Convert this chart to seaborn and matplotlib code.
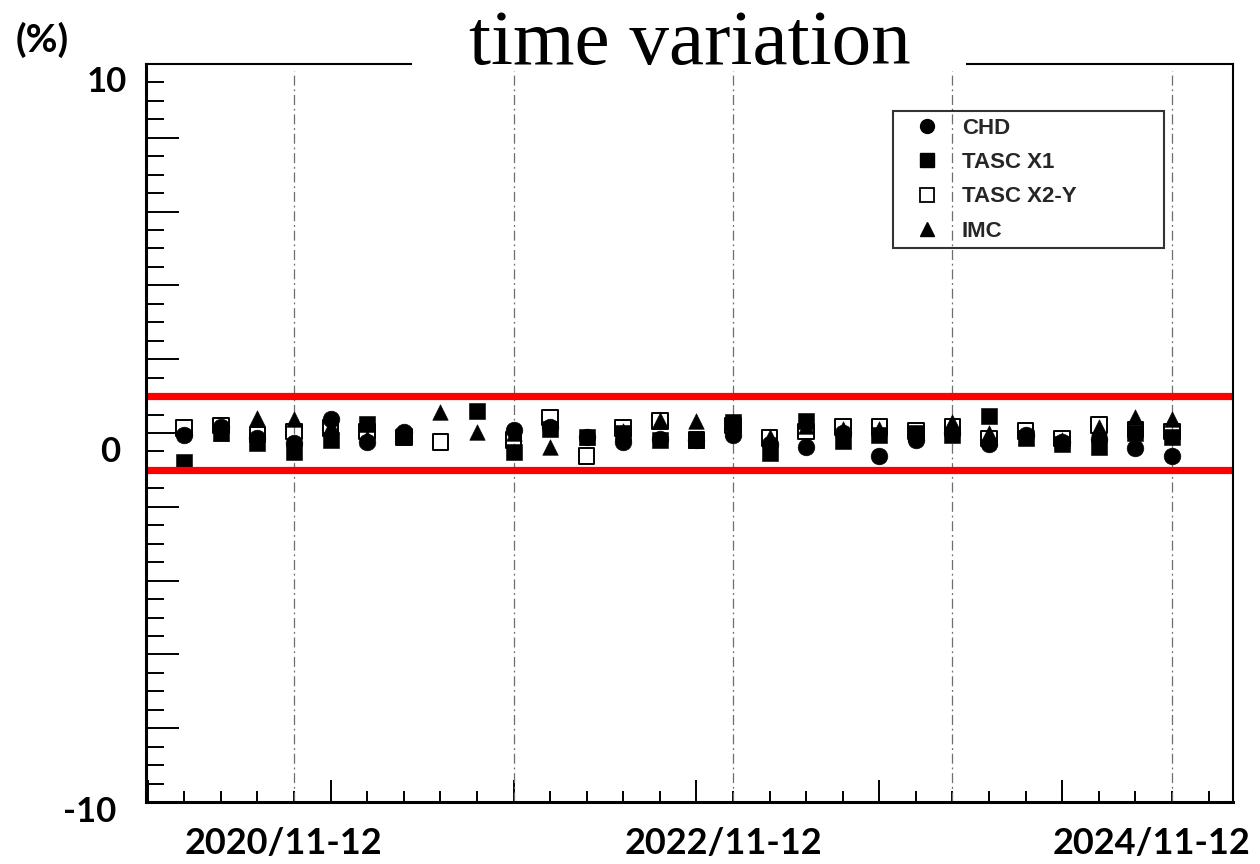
import numpy as np
import pandas as pd
import matplotlib
matplotlib.use("Agg")
import matplotlib.pyplot as plt
import matplotlib.transforms as mtransforms
from matplotlib.lines import Line2D
from matplotlib.patches import Rectangle
from matplotlib.ticker import FixedLocator, MultipleLocator, NullFormatter
import seaborn as sns

# ---------------- data ----------------
periods = [
    "2020/05-06", "2020/07-08", "2020/09-10", "2020/11-12",
    "2021/01-02", "2021/03-04", "2021/05-06", "2021/07-08", "2021/09-10", "2021/11-12",
    "2022/01-02", "2022/03-04", "2022/05-06", "2022/07-08", "2022/09-10", "2022/11-12",
    "2023/01-02", "2023/03-04", "2023/05-06", "2023/07-08", "2023/09-10", "2023/11-12",
    "2024/01-02", "2024/03-04", "2024/05-06", "2024/07-08", "2024/09-10", "2024/11-12",
]
chd = [-0.06, 0.15, -0.14, -0.28, 0.37, -0.25, 0.04, np.nan, np.nan, 0.08,
       0.17, -0.10, -0.25, -0.15, -0.20, -0.05, -0.30, -0.37, 0.00, -0.62,
       -0.19, 0.00, -0.31, -0.05, -0.25, -0.15, -0.40, -0.62]
tasc_x1 = [-0.78, -0.01, -0.28, -0.51, -0.19, 0.24, -0.08, np.nan, 0.60, -0.51,
           0.12, -0.12, 0.00, -0.19, -0.20, 0.31, -0.55, 0.33, -0.22, -0.05,
           0.00, -0.05, 0.46, -0.13, -0.31, -0.37, 0.00, -0.12]
tasc_x2y = [0.13, 0.20, -0.04, 0.04, 0.13, 0.04, -0.12, -0.24, np.nan, -0.19,
            0.42, -0.62, 0.13, 0.32, -0.19, 0.20, -0.13, 0.04, 0.17, 0.17,
            0.05, 0.17, -0.15, 0.05, -0.15, 0.22, 0.10, 0.04]
imc = [np.nan, 0.00, 0.42, 0.37, 0.20, -0.13, 0.00, 0.58, 0.04, 0.00,
       -0.37, -0.10, 0.05, 0.34, 0.33, 0.10, -0.10, 0.20, 0.10, 0.10,
       0.00, 0.30, 0.00, -0.10, -0.20, 0.15, 0.44, 0.37]
series_names = ["CHD", "TASC X1", "TASC X2-Y", "IMC"]
labeled_periods = ["2020/11-12", "2022/11-12", "2024/11-12"]
band_limits = [-1.0, 1.0]
y_labels = ["10", "0", "-10"]
title_text = "time variation"
unit_text = "(%)"

# ---------------- style ----------------
sns.set_theme(style="white")
plt.rcParams["font.family"] = ["Lato", "DejaVu Sans"]

W, H = 1260, 864
fig = plt.figure(figsize=(W / 100, H / 100), dpi=100)
fig.patch.set_facecolor("white")


def fx(px):
    return px / W


def fy(py):
    return 1 - py / H


ax = fig.add_axes([fx(146), fy(802), fx(1233) - fx(146), fy(64) - fy(802)])
ax.set_facecolor("white")

df = pd.DataFrame({"bin": np.arange(len(periods)), "period": periods,
                   "CHD": chd, "TASC X1": tasc_x1,
                   "TASC X2-Y": tasc_x2y, "IMC": imc})
long_df = df.melt(id_vars=["bin", "period"], value_vars=series_names,
                  var_name="detector", value_name="variation").dropna()

styles = {
    "CHD": dict(marker="o", color="black", edgecolor="black", s=145, linewidth=0.4),
    "TASC X1": dict(marker="s", color="black", edgecolor="black", s=135, linewidth=0.4),
    "TASC X2-Y": dict(marker="s", color="black", facecolor="none", edgecolor="black",
                      s=126, linewidth=1.4),
    "IMC": dict(marker="^", color="black", edgecolor="black", s=125, linewidth=0.4),
}
for name in series_names:
    sub = long_df[long_df["detector"] == name]
    sns.scatterplot(data=sub, x="bin", y="variation", ax=ax, legend=False,
                    zorder=3, **styles[name])

# vertical dash-dot grid at each Nov-Dec bin
for i, p in enumerate(periods):
    if p.endswith("11-12"):
        ax.axvline(i, ymax=0.99, color="#6e6e6e", lw=0.9,
                   linestyle=(0, (8, 3, 1.5, 3)), zorder=1)

# red band limits
for b in band_limits:
    ax.axhline(b, color="#ff0000", lw=5.2, zorder=5)

ax.set_xlim(-1.046, 28.668)
ax.set_ylim(-10, 10)
ax.set_xlabel("")
ax.set_ylabel("")
ax.xaxis.set_major_locator(FixedLocator(np.arange(-1, 29, 5)))
ax.xaxis.set_minor_locator(MultipleLocator(1))
ax.yaxis.set_major_locator(MultipleLocator(2))
ax.yaxis.set_minor_locator(MultipleLocator(0.5))
ax.xaxis.set_major_formatter(NullFormatter())
ax.yaxis.set_major_formatter(NullFormatter())
ax.tick_params(which="both", direction="in", left=True, bottom=True,
               top=False, right=False, labelleft=False, labelbottom=False,
               color="black", width=1.4)
ax.tick_params(axis="y", which="major", length=24)
ax.tick_params(axis="y", which="minor", length=13)
ax.tick_params(axis="x", which="major", length=16)
ax.tick_params(axis="x", which="minor", length=8)
for side, sp in ax.spines.items():
    sp.set_visible(True)
    sp.set_color("black")
    sp.set_linewidth(2.2 if side in ("left", "bottom") else 1.5)
    sp.set_zorder(6)

# legend
handles = [
    Line2D([], [], linestyle="none", marker="o", color="black", markersize=10),
    Line2D([], [], linestyle="none", marker="s", color="black", markersize=10),
    Line2D([], [], linestyle="none", marker="s", markerfacecolor="none",
           markeredgecolor="black", markeredgewidth=1.3, markersize=10),
    Line2D([], [], linestyle="none", marker="^", color="black", markersize=10),
]
leg = ax.legend(handles, series_names, loc="upper left",
                bbox_to_anchor=(fx(893), fy(248), fx(1164) - fx(893), fy(111) - fy(248)),
                bbox_transform=fig.transFigure, mode="expand", borderaxespad=0,
                prop={"family": "Liberation Sans", "weight": "bold", "size": 16},
                handlelength=2.43, handletextpad=0.36, borderpad=0.3,
                labelspacing=0.6, fancybox=False, frameon=True)
leg.get_frame().set_edgecolor("black")
leg.get_frame().set_linewidth(1.5)
leg.get_frame().set_facecolor("none")
leg.set_zorder(7)

# y labels (placed just below their values, as in the reference)
ylab_off = {"10": 18, "0": 19, "-10": 10}
ylab_right = {"10": 127, "0": 120, "-10": 116}
for lab in y_labels:
    tr = mtransforms.blended_transform_factory(fig.transFigure, ax.transData) + \
        mtransforms.ScaledTranslation(0, -ylab_off[lab] / 100, fig.dpi_scale_trans)
    fig.text(fx(ylab_right[lab]), float(lab), lab, transform=tr, ha="right",
             va="center", fontsize=25, fontweight="bold", color="black")

# x labels
xlab_off = {"2020/11-12": -11, "2022/11-12": -10, "2024/11-12": -20}
for lab in labeled_periods:
    tr = mtransforms.blended_transform_factory(ax.transData, fig.transFigure) + \
        mtransforms.ScaledTranslation(xlab_off[lab] / 100, 0, fig.dpi_scale_trans)
    fig.text(periods.index(lab), fy(843), lab, transform=tr, ha="center",
             va="center", fontsize=26, fontweight="bold", color="black")

# unit label
fig.text(fx(42), fy(40), unit_text, ha="center", va="center", fontsize=28,
         fontweight="bold", color="black")

# title with white box covering the frame top
fig.add_artist(Rectangle((fx(412), fy(69)), fx(966) - fx(412), fy(0) - fy(69),
                         transform=fig.transFigure, facecolor="white",
                         edgecolor="none", zorder=2))
fig.text(fx(690), fy(64), title_text, ha="center", va="baseline", fontsize=57,
         family="Liberation Serif", color="black", zorder=3)

fig.savefig("out.png", dpi=100)
